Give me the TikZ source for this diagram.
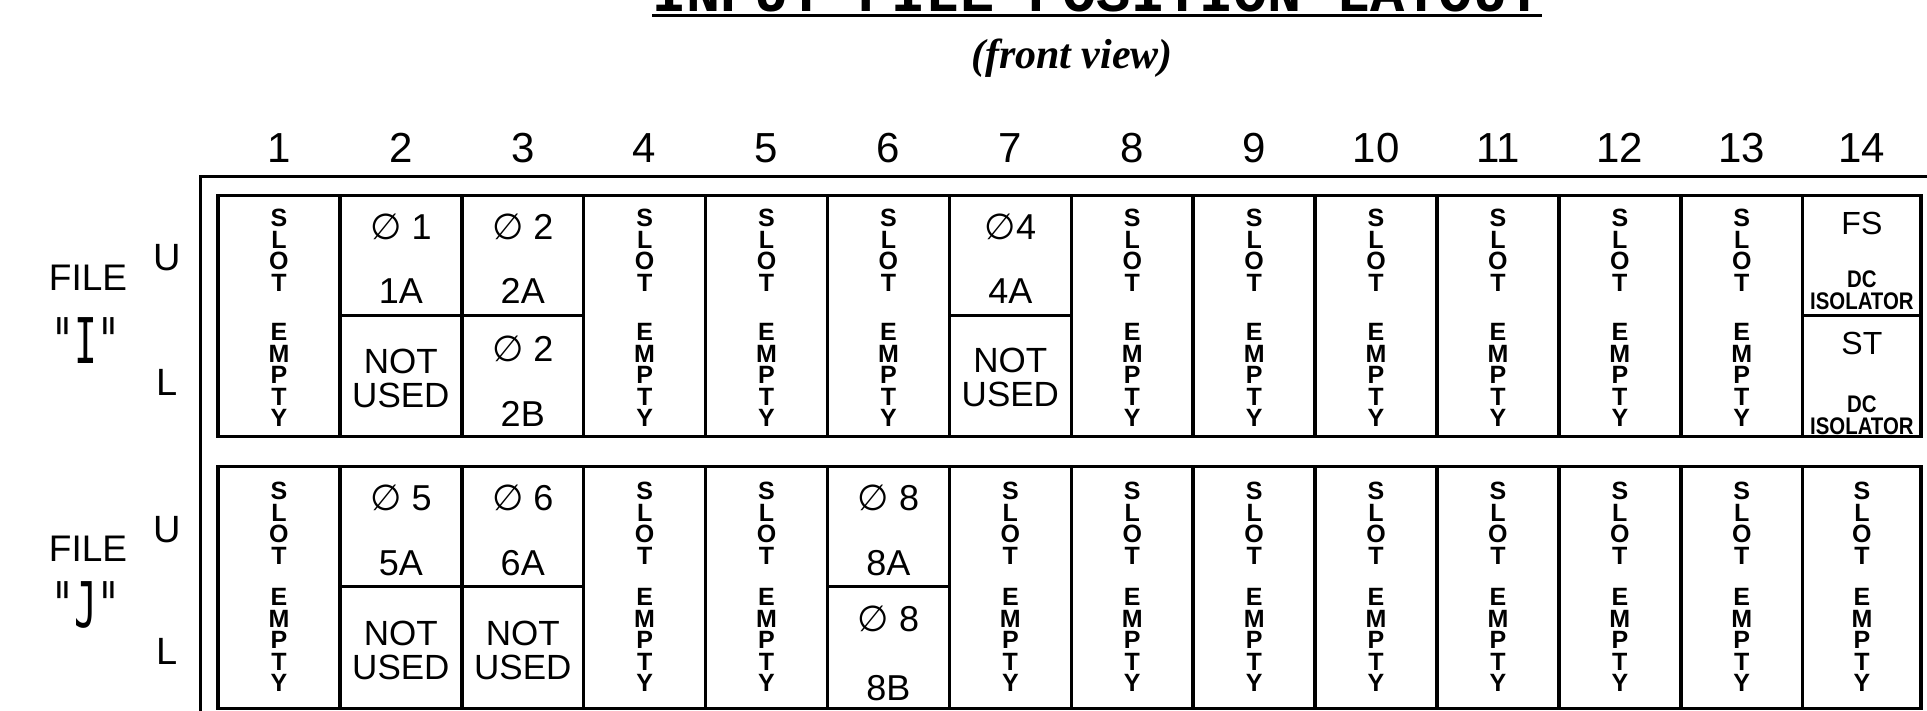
\documentclass[tikz,border=0pt]{standalone}
\usepackage{fontspec}
\usepackage{graphicx}
\setmainfont{Liberation Sans}
\newfontfamily\monoI{DejaVu Sans Mono}
\newfontfamily\titlef{Liberation Mono}
\newfontfamily\viewf{Liberation Serif}
\newfontfamily\phif{DejaVu Sans}
\newcommand\fsz[2]{\fontsize{#1}{#2}\selectfont}
\newcommand\ph{{\phif ∅}}
\newcommand\cnd[1]{\scalebox{0.85}[1]{#1}}
\begin{document}
\begin{tikzpicture}[x=1pt,y=-1pt,
  frame/.style={line width=3.5pt},
  slotl/.style={font=\bfseries\fsz{25}{21.5}, align=center, inner sep=0pt},
  celltxt/.style={font=\fsz{36}{34}, anchor=base, inner sep=0pt},
  notused/.style={font=\fsz{35}{34}, align=center, inner sep=0pt},
  colnum/.style={font=\fsz{42}{42}, inner sep=0pt},
  sidelab/.style={font=\fsz{38}{38}, inner sep=0pt},
  filelab/.style={font=\fsz{37}{37}, inner sep=0pt},
  bigname/.style={font=\monoI\fsz{63}{63}, anchor=base, inner sep=0pt},
  isotxt/.style={font=\bfseries\fsz{24}{21.5}, align=center, inner sep=0pt},
  fstxt/.style={font=\fsz{32}{32}, inner sep=0pt}]
\useasboundingbox (0,0) rectangle (1927,711);
\clip (0,0) rectangle (1927,711);

% title
\node[font=\titlef\bfseries\fsz{57}{57}, anchor=base, inner sep=0pt] (title) at (1097,12) {INPUT FILE POSITION LAYOUT};
\draw[line width=3pt] ([yshift=-3.5pt]title.base west) -- ([yshift=-3.5pt]title.base east);
\node[font=\viewf\bfseries\itshape\fsz{42}{42}, inner sep=0pt] (view) at (1072,58) {(front view)};

% outer frame
\draw[frame] (200.7,760) -- (200.7,176.7) -- (1960,176.7);
% file boxes
\draw[frame] (218,195.7) rectangle (1921,436.7);
\draw[frame] (218,466.7) rectangle (1921,708.3);
\foreach \i in {1,...,13}{
  \draw[frame] ({218+121.9*\i},195.7) -- ({218+121.9*\i},436.7);
  \draw[frame] ({218+121.9*\i},466.7) -- ({218+121.9*\i},708.3);
}
% row dividers
\draw[frame] (339.9,315.7) -- (583.7,315.7);
\draw[frame] (949.4,315.7) -- (1071.3,315.7);
\draw[frame] (1802.7,315.7) -- (1921,315.7);
\draw[frame] (339.9,586.7) -- (583.7,586.7);
\draw[frame] (827.5,586.7) -- (949.4,586.7);

% column numbers
\foreach \c in {1,...,14}{
  \pgfmathsetmacro\cx{min(218+121.9*(\c-0.5),1861.9)}
  \node[colnum] (n\c) at (\cx,148) {\c};
}

% side labels
\node[filelab] (fileI) at (88,278) {FILE};
\node[bigname] (nameI) at (86,363) {\scalebox{0.6}[1]{"I"}};
\node[filelab] (fileJ) at (88,549) {FILE};
\node[bigname] (nameJ) at (86,627) {\scalebox{0.6}[1]{"J"}};
\node[sidelab] (uI) at (167,258) {U};
\node[sidelab] (lI) at (167,382) {L};
\node[sidelab] (uJ) at (167,530) {U};
\node[sidelab] (lJ) at (167,651) {L};

% empty slots
\foreach \c in {1,4,5,6,8,9,10,11,12,13}{
  \pgfmathsetmacro\cx{218+121.9*(\c-0.5)}
  \node[slotl] (is\c) at (\cx,250.5) {S\\L\\O\\T};
  \node[slotl] (ie\c) at (\cx,375) {E\\M\\P\\T\\Y};
}
\foreach \c in {1,4,5,7,8,9,10,11,12,13,14}{
  \pgfmathsetmacro\cx{min(218+121.9*(\c-0.5),1861.9)}
  \node[slotl] (js\c) at (\cx,523.5) {S\\L\\O\\T};
  \node[slotl] (je\c) at (\cx,640) {E\\M\\P\\T\\Y};
}

% file I cells
\node[celltxt] (i2a) at (400.85,240) {\ph\ 1};
\node[celltxt] (i2b) at (400.85,303) {1A};
\node[notused] (i2l) at (400.85,378) {NOT\\USED};
\node[celltxt] (i3a) at (522.75,240) {\ph\ 2};
\node[celltxt] (i3b) at (522.75,303) {2A};
\node[celltxt] (i3c) at (522.75,361) {\ph\ 2};
\node[celltxt] (i3d) at (522.75,426) {2B};
\node[celltxt] (i7a) at (1010.35,240) {\ph4};
\node[celltxt] (i7b) at (1010.35,303) {4A};
\node[notused] (i7l) at (1010.35,377) {NOT\\USED};
\node[fstxt] (i14a) at (1861.9,223) {FS};
\node[isotxt] (i14b) at (1861.9,290) {\cnd{DC}\\\cnd{ISOLATOR}};
\node[fstxt] (i14c) at (1861.9,343) {ST};
\node[isotxt] (i14d) at (1861.9,415) {\cnd{DC}\\\cnd{ISOLATOR}};

% file J cells
\node[celltxt] (j2a) at (400.85,510) {\ph\ 5};
\node[celltxt] (j2b) at (400.85,575) {5A};
\node[notused] (j2l) at (400.85,650) {NOT\\USED};
\node[celltxt] (j3a) at (522.75,510) {\ph\ 6};
\node[celltxt] (j3b) at (522.75,575) {6A};
\node[notused] (j3l) at (522.75,650) {NOT\\USED};
\node[celltxt] (j6a) at (888.45,510) {\ph\ 8};
\node[celltxt] (j6b) at (888.45,575) {8A};
\node[celltxt] (j6c) at (888.45,631) {\ph\ 8};
\node[celltxt] (j6d) at (888.45,700) {8B};
\end{tikzpicture}
\end{document}
